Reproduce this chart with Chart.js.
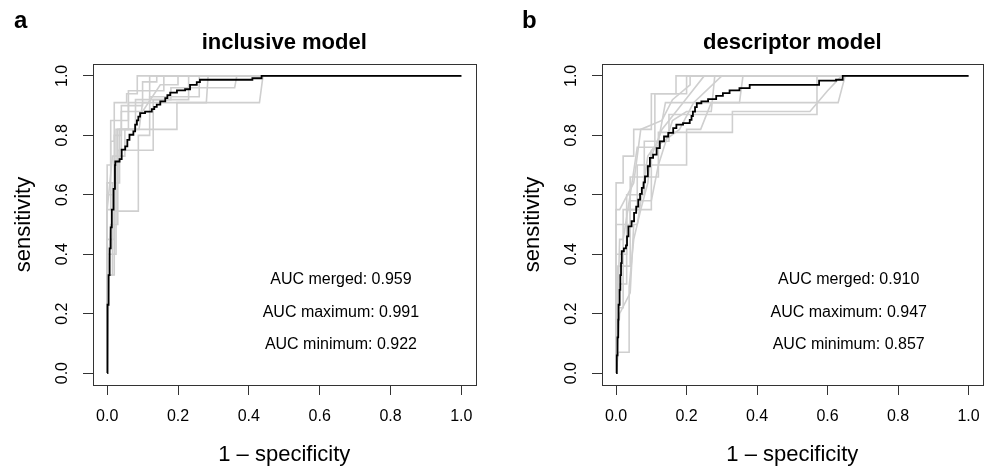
<!DOCTYPE html>
<html>
<head>
<meta charset="utf-8">
<script src="https://cdn.jsdelivr.net/npm/chart.js@4/dist/chart.umd.min.js"></script>
<style>
  html,body{margin:0;padding:0;background:#fff;}
  #wrap{position:relative;width:992px;height:470px;background:#fff;overflow:hidden;}
  canvas{position:absolute;top:0;}
  .tag{position:absolute;font-family:"Liberation Sans",Arial,Helvetica,sans-serif;font-weight:bold;font-size:24px;line-height:24px;color:#000;}
</style>
</head>
<body>
<div id="wrap">
  <canvas id="c1" width="500" height="470" style="left:0px;width:500px;height:470px"></canvas>
  <canvas id="c2" width="483" height="470" style="left:509px;width:483px;height:470px"></canvas>
  <div class="tag" style="left:14px;top:8px">a</div>
  <div class="tag" style="left:522px;top:8px">b</div>
</div>
<script>
// ---------- data: [1 - specificity, sensitivity] ----------
const tickValues = [0, 0.2, 0.4, 0.6, 0.8, 1.0];
const panelTitles = ['inclusive model', 'descriptor model'];
const aucLabelsIncl = ['AUC merged: 0.959', 'AUC maximum: 0.991', 'AUC minimum: 0.922'];
const aucLabelsDesc = ['AUC merged: 0.910', 'AUC maximum: 0.947', 'AUC minimum: 0.857'];
const aucLabelY = [0.315, 0.205, 0.095];
const aucLabelX = 0.66;

// inclusive model, merged ROC
const inclMerged = [[0,0],[0.001,0.23],[0.004,0.33],[0.007,0.42],[0.01,0.49],[0.013,0.55],[0.018,0.62],[0.022,0.7],[0.023,0.712],
  [0.035,0.72],[0.041,0.752],[0.051,0.763],[0.057,0.785],[0.063,0.802],[0.074,0.813],[0.079,0.836],[0.084,0.85],[0.088,0.863],
  [0.093,0.875],[0.107,0.88],[0.126,0.888],[0.133,0.896],[0.14,0.903],[0.15,0.914],[0.164,0.925],[0.17,0.935],[0.178,0.944],
  [0.197,0.951],[0.22,0.955],[0.234,0.97],[0.253,0.979],[0.262,0.987],[0.40,0.987],[0.41,0.992],
  [0.436,1],[1,1]];
// inclusive model, individual folds
const inclFold1 = [[0,0],[0,0.55],[0.01,0.55],[0.01,0.78],[0.02,0.78],[0.02,0.91],[0.055,0.91],[0.055,0.94],[0.085,0.94],[0.085,1],[1,1]];
const inclFold2 = [[0,0],[0,0.33],[0.015,0.33],[0.015,0.64],[0.03,0.64],[0.03,0.82],[0.197,0.82],[0.197,0.91],[0.28,0.91],[0.285,1],[1,1]];
const inclFold3 = [[0,0],[0,0.45],[0.02,0.45],[0.02,0.73],[0.05,0.73],[0.05,0.82],[0.09,0.82],[0.1,0.91],[0.43,0.91],[0.44,1],[1,1]];
const inclFold4 = [[0,0],[0,0.64],[0.035,0.64],[0.035,0.82],[0.06,0.82],[0.06,0.91],[0.12,0.91],[0.12,1],[1,1]];
const inclFold5 = [[0,0],[0,0.27],[0.01,0.5],[0.03,0.5],[0.03,0.75],[0.13,0.75],[0.13,0.92],[0.18,0.92],[0.18,0.96],[0.36,0.96],[0.366,1],[1,1]];
const inclFold6 = [[0,0],[0,0.55],[0.015,0.73],[0.04,0.73],[0.04,0.88],[0.1,0.88],[0.15,0.97],[0.2,0.97],[0.2,1],[1,1]];
const inclFold7 = [[0,0],[0,0.4],[0.025,0.4],[0.025,0.82],[0.08,0.82],[0.08,0.92],[0.23,0.92],[0.23,1],[1,1]];
const inclFold8 = [[0,0],[0,0.6],[0.02,0.6],[0.02,0.8],[0.04,0.8],[0.04,0.9],[0.1,0.9],[0.1,0.98],[0.14,0.98],[0.14,1],[1,1]];
const inclFold9 = [[0,0],[0,0.7],[0.01,0.7],[0.01,0.85],[0.06,0.85],[0.06,0.95],[0.16,0.95],[0.16,1],[1,1]];
const inclFold10 = [[0,0],[0.005,0.33],[0.02,0.33],[0.02,0.545],[0.088,0.545],[0.088,0.8],[0.12,0.8],[0.12,0.93],[0.26,0.93],[0.26,1],[1,1]];

// descriptor model, merged ROC
const descMerged = [[0,0],[0.002,0.06],[0.004,0.12],[0.006,0.18],[0.007,0.23],[0.01,0.28],[0.012,0.33],[0.014,0.37],[0.016,0.41],[0.022,0.42],[0.028,0.43],
  [0.031,0.46],[0.035,0.494],[0.044,0.511],[0.051,0.539],[0.057,0.56],[0.063,0.584],[0.068,0.603],[0.073,0.623],[0.078,0.642],[0.082,0.662],[0.09,0.696],
  [0.096,0.724],[0.105,0.735],[0.115,0.757],[0.124,0.78],[0.136,0.796],[0.148,0.808],[0.162,0.824],
  [0.171,0.836],[0.19,0.841],[0.209,0.852],[0.214,0.865],[0.218,0.88],[0.224,0.895],[0.229,0.908],[0.242,0.914],[0.261,0.922],
  [0.284,0.933],[0.303,0.942],[0.322,0.951],[0.35,0.959],[0.379,0.97],[0.571,0.97],[0.576,0.984],
  [0.624,0.987],[0.643,1],[1,1]];
// descriptor model, individual folds
const descFold1 = [[0,0],[0,0.64],[0.02,0.64],[0.02,0.73],[0.05,0.73],[0.05,0.82],[0.1,0.82],[0.1,0.94],[0.2,0.94],[0.2,1],[1,1]];
const descFold2 = [[0,0],[0.006,0.07],[0.037,0.07],[0.037,0.29],[0.05,0.45],[0.07,0.55],[0.09,0.64],[0.1,0.75],[0.18,0.82],[0.22,0.91],[0.3,1],[1,1]];
const descFold3 = [[0,0],[0,0.4],[0.03,0.4],[0.03,0.55],[0.06,0.55],[0.06,0.7],[0.2,0.7],[0.2,0.82],[0.24,0.82],[0.27,0.91],[0.63,0.91],[0.65,1],[1,1]];
const descFold4 = [[0,0],[0.01,0.3],[0.03,0.3],[0.03,0.6],[0.08,0.6],[0.08,0.78],[0.15,0.78],[0.15,0.87],[0.57,0.87],[0.57,1],[1,1]];
const descFold5 = [[0,0],[0,0.5],[0.04,0.5],[0.04,0.66],[0.12,0.66],[0.12,0.81],[0.33,0.81],[0.33,0.88],[0.55,0.88],[0.6,0.95],[0.64,1],[1,1]];
const descFold6 = [[0,0],[0.01,0.45],[0.02,0.45],[0.04,0.6],[0.06,0.76],[0.11,0.76],[0.11,0.94],[0.17,0.94],[0.17,1],[1,1]];
const descFold7 = [[0,0],[0,0.22],[0.02,0.22],[0.02,0.55],[0.1,0.55],[0.1,0.73],[0.13,0.82],[0.19,0.91],[0.25,1],[1,1]];
const descFold8 = [[0,0],[0.005,0.36],[0.04,0.36],[0.04,0.58],[0.1,0.58],[0.12,0.7],[0.16,0.85],[0.2,0.88],[0.27,0.88],[0.28,1],[1,1]];
const descFold9 = [[0,0],[0,0.55],[0.01,0.55],[0.05,0.64],[0.07,0.82],[0.13,0.85],[0.16,0.92],[0.21,0.97],[0.21,1],[1,1]];
const descFold10 = [[0,0],[0.01,0.2],[0.04,0.27],[0.05,0.5],[0.06,0.5],[0.09,0.73],[0.12,0.78],[0.14,0.91],[0.35,0.91],[0.36,1],[1,1]];

const inclFolds = [inclFold1,inclFold2,inclFold3,inclFold4,inclFold5,inclFold6,inclFold7,inclFold8,inclFold9,inclFold10];
const descFolds = [descFold1,descFold2,descFold3,descFold4,descFold5,descFold6,descFold7,descFold8,descFold9,descFold10];

// ---------- rendering ----------
const FONT = '"Liberation Sans", Arial, Helvetica, sans-serif';
const AXIS_COLOR = '#333333';

const boxPlugin = {
  id: 'box',
  afterDraw(chart) {
    const {ctx, chartArea: a} = chart;
    ctx.save();
    ctx.strokeStyle = AXIS_COLOR;
    ctx.lineWidth = 1;
    ctx.strokeRect(Math.round(a.left) + 0.5, Math.round(a.top) + 0.5, Math.round(a.right - a.left), Math.round(a.bottom - a.top));
    ctx.restore();
  }
};

const aucPlugin = {
  id: 'auc',
  afterDraw(chart, args, opts) {
    const {ctx, scales: {x, y}} = chart;
    ctx.save();
    ctx.fillStyle = '#000';
    ctx.font = '16px ' + FONT;
    ctx.textAlign = 'center';
    ctx.textBaseline = 'middle';
    opts.labels.forEach((t, i) => {
      ctx.fillText(t, x.getPixelForValue(aucLabelX), y.getPixelForValue(aucLabelY[i]));
    });
    ctx.restore();
  }
};

function pts(arr) { return arr.map(p => ({x: p[0], y: p[1]})); }

function axisCommon() {
  return {
    type: 'linear', min: -0.04, max: 1.04,
    afterBuildTicks: s => { s.ticks = tickValues.map(v => ({value: v})); },
    grid: {drawOnChartArea: false, drawTicks: true, tickLength: 10, color: AXIS_COLOR, lineWidth: 1},
    border: {display: true, color: AXIS_COLOR, width: 1}
  };
}

function makePanel(id, title, merged, folds, labels, rightPad) {
  // merged curve first: dataset 0 is painted on top
  const datasets = [{data: pts(merged), showLine: true, borderColor: '#000', borderWidth: 1.8,
    pointRadius: 0, fill: false, tension: 0, stepped: 'before'}];
  folds.forEach(f => datasets.push({
    data: pts(f), showLine: true, borderColor: '#cfcfcf', borderWidth: 1.6,
    pointRadius: 0, fill: false, tension: 0
  }));
  const xs = Object.assign(axisCommon(), {
    position: 'bottom',
    ticks: {callback: v => v.toFixed(1), font: {size: 16, family: FONT}, color: '#000', padding: 12, maxRotation: 0, autoSkip: false},
    title: {display: true, text: '1 – specificity', font: {size: 22, family: FONT}, color: '#000', padding: {top: 0, bottom: 2}},
    afterFit: s => { s.height = 85; }
  });
  const ys = Object.assign(axisCommon(), {
    position: 'left',
    ticks: {callback: v => v.toFixed(1), font: {size: 16, family: FONT}, color: '#000', padding: 9, minRotation: 90, maxRotation: 90, crossAlign: 'center', autoSkip: false},
    title: {display: true, text: 'sensitivity', font: {size: 22, family: FONT}, color: '#000', padding: {top: 11, bottom: 0}},
    afterFit: s => { s.width = 93; }
  });
  return new Chart(document.getElementById(id), {
    type: 'scatter',
    data: {datasets},
    options: {
      responsive: false, animation: false, devicePixelRatio: 1,
      layout: {padding: {left: 0, right: rightPad, top: 0, bottom: 0}},
      plugins: {
        legend: {display: false}, tooltip: {enabled: false},
        title: {display: true, text: title, fullSize: false, color: '#000',
          font: {size: 22, weight: 'bold', family: FONT}, padding: {top: 30, bottom: 7.6}},
        auc: {labels}
      },
      scales: {x: xs, y: ys}
    },
    plugins: [boxPlugin, aucPlugin]
  });
}

makePanel('c1', panelTitles[0], inclMerged, inclFolds, aucLabelsIncl, 24.5);
makePanel('c2', panelTitles[1], descMerged, descFolds, aucLabelsDesc, 8);
</script>
</body>
</html>
